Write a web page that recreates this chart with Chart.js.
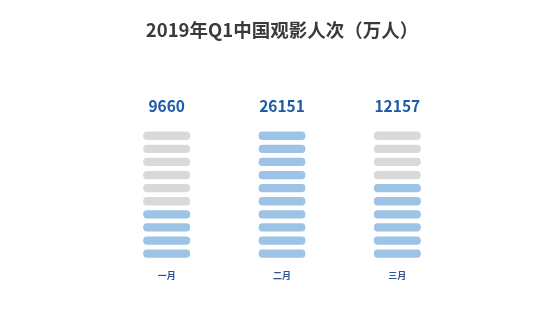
<!DOCTYPE html>
<html>
<head>
<meta charset="utf-8">
<script src="https://cdn.jsdelivr.net/npm/chart.js@4/dist/chart.umd.min.js"></script>
<style>
    html, body { margin: 0; padding: 0; background: #ffffff; }
    #wrap { width: 554px; height: 311px; }
</style>
</head>
<body>
<div id="wrap"><canvas id="people_chart"></canvas></div>
<script>
// chart data
const months = ["一月", "二月", "三月"];
const viewers = [9660, 26151, 12157];      // 万人
const bluePills = [4, 10, 6];              // highlighted pills per month
const pillCount = 10;

const BLUE = "#9dc3e6";
const GREY = "#d9d9d9";
const FONT = "'Noto Sans CJK SC', 'Noto Sans', sans-serif";

// one dataset per pill slot, counted from the bottom
let datasets = [];
for (let slot = 0; slot < pillCount; slot++) {
    datasets.push({
        data: months.map(() => 1),
        backgroundColor: bluePills.map(n => slot < n ? BLUE : GREY),
        borderColor: "#ffffff",
        borderWidth: { top: 2.4, bottom: 2.4, left: 0, right: 0 },
        borderSkipped: false,
        borderRadius: { topLeft: 6.4, topRight: 6.4, bottomLeft: 6.4, bottomRight: 6.4 },
        barPercentage: 1,
        categoryPercentage: 0.41
    });
}

// numbers over each column
const valueLabels = {
    id: "valueLabels",
    afterDatasetsDraw(chart) {
        const ctx = chart.ctx;
        const top = chart.getDatasetMeta(pillCount - 1);
        ctx.save();
        ctx.font = "bold 15.5px " + FONT;
        ctx.fillStyle = "#1f5aa6";
        ctx.textAlign = "center";
        ctx.textBaseline = "middle";
        top.data.forEach((bar, i) => {
            ctx.fillText(viewers[i], bar.x, bar.y - 23);
        });
        ctx.restore();
    }
};

new Chart("people_chart", {
    type: "bar",
    data: { labels: months, datasets: datasets },
    plugins: [valueLabels],
    options: {
        responsive: true,
        maintainAspectRatio: false,
        animation: false,
        layout: { padding: { left: 109, right: 99, top: 0, bottom: 20 } },
        plugins: {
            legend: { display: false },
            tooltip: { enabled: false },
            title: {
                display: true,
                text: "2019年Q1中国观影人次（万人）",
                color: "#3a3a3a",
                font: { family: FONT, size: 18.5, weight: "bold" },
                padding: { top: 19, bottom: 88 }
            }
        },
        scales: {
            x: {
                stacked: true,
                grid: { display: false, drawTicks: false },
                border: { display: false },
                ticks: {
                    color: "#2f5597",
                    padding: 10,
                    font: { family: FONT, size: 9, weight: "bold" }
                }
            },
            y: {
                stacked: true,
                display: false,
                min: 0,
                max: pillCount
            }
        }
    }
});
</script>
</body>
</html>
